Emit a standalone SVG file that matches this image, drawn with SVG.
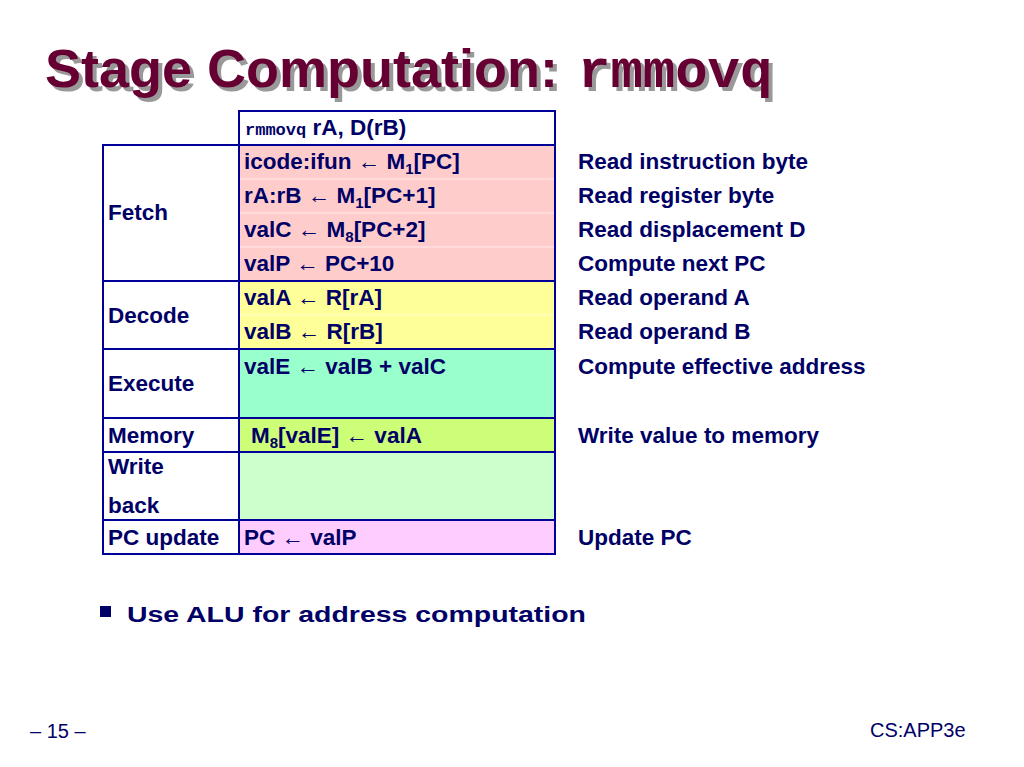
<svg xmlns="http://www.w3.org/2000/svg" width="1024" height="767" viewBox="0 0 1024 767">
<style>
text{font-family:"Liberation Sans",Arial,sans-serif;font-weight:bold;font-size:22.5px;fill:#000066}
.m{font-family:"Liberation Mono","Courier New",monospace}
.sub{font-size:15px}
.cell{stroke:#000099;stroke-width:2}
.t{font-size:54px;fill:#660033}
.ts{font-size:54px;fill:#999999}
.n{font-weight:normal;font-size:20px;fill:#000066}
</style>
<rect width="1024" height="767" fill="#fff"/>
<g id="title">
<text x="49" y="91" class="ts">Stage Computation:</text>
<text x="582" y="91" class="ts" style="font-family:'Liberation Mono','Courier New',monospace" font-size="53">rmmovq</text>
<text x="45" y="87" class="t">Stage Computation:</text>
<text x="578" y="87" class="t" style="font-family:'Liberation Mono','Courier New',monospace" font-size="53">rmmovq</text>
</g>
<g id="table">
<rect class="cell" x="239" y="111" width="316" height="34" fill="#fff"/>
<rect class="cell" x="239" y="145" width="316" height="136" fill="#ffcccc"/>
<rect class="cell" x="239" y="281" width="316" height="68" fill="#ffff99"/>
<rect class="cell" x="239" y="349" width="316" height="69" fill="#99ffcc"/>
<rect class="cell" x="239" y="418" width="316" height="34" fill="#ccff77"/>
<rect class="cell" x="239" y="452" width="316" height="68" fill="#ccffcc"/>
<rect class="cell" x="239" y="520" width="316" height="34" fill="#ffccff"/>
<g stroke="#ffffff" stroke-width="1" opacity="0.6"><line x1="240" y1="179" x2="554" y2="179"/><line x1="240" y1="213" x2="554" y2="213"/><line x1="240" y1="247" x2="554" y2="247"/><line x1="240" y1="315" x2="554" y2="315"/></g>
<rect class="cell" x="103" y="145" width="136" height="136" fill="#fff"/>
<rect class="cell" x="103" y="281" width="136" height="68" fill="#fff"/>
<rect class="cell" x="103" y="349" width="136" height="69" fill="#fff"/>
<rect class="cell" x="103" y="418" width="136" height="34" fill="#fff"/>
<rect class="cell" x="103" y="452" width="136" height="68" fill="#fff"/>
<rect class="cell" x="103" y="520" width="136" height="34" fill="#fff"/>
<text x="245" y="135"><tspan style="font-family:'Liberation Mono','Courier New',monospace" font-size="17">rmmovq</tspan> rA, D(rB)</text>
<text x="244" y="169">icode:ifun ← M<tspan class="sub" dy="5">1</tspan><tspan dy="-5">[PC]</tspan></text>
<text x="244" y="203">rA:rB ← M<tspan class="sub" dy="5">1</tspan><tspan dy="-5">[PC+1]</tspan></text>
<text x="244" y="237">valC ← M<tspan class="sub" dy="5">8</tspan><tspan dy="-5">[PC+2]</tspan></text>
<text x="244" y="271">valP ← PC+10</text>
<text x="244" y="305">valA ← R[rA]</text>
<text x="244" y="339">valB ← R[rB]</text>
<text x="244" y="374">valE ← valB + valC</text>
<text x="251" y="443">M<tspan class="sub" dy="5">8</tspan><tspan dy="-5">[valE] ← valA</tspan></text>
<text x="244" y="545">PC ← valP</text>
<text x="108" y="220">Fetch</text>
<text x="108" y="323">Decode</text>
<text x="108" y="391">Execute</text>
<text x="108" y="443">Memory</text>
<text x="108" y="474">Write</text>
<text x="108" y="513">back</text>
<text x="108" y="545">PC update</text>
</g>
<g id="comments">
<text x="578" y="169">Read instruction byte</text>
<text x="578" y="203">Read register byte</text>
<text x="578" y="237">Read displacement D</text>
<text x="578" y="271">Compute next PC</text>
<text x="578" y="305">Read operand A</text>
<text x="578" y="339">Read operand B</text>
<text x="578" y="374">Compute effective address</text>
<text x="578" y="443">Write value to memory</text>
<text x="578" y="545">Update PC</text>
</g>
<g id="bullet">
<rect x="100" y="606" width="11" height="11" fill="#000066"/>
<text x="127" y="622" font-size="29" textLength="459" lengthAdjust="spacingAndGlyphs">Use ALU for address computation</text>
</g>
<text x="30" y="738" class="n">– 15 –</text>
<text x="870" y="737" class="n">CS:APP3e</text>
</svg>
